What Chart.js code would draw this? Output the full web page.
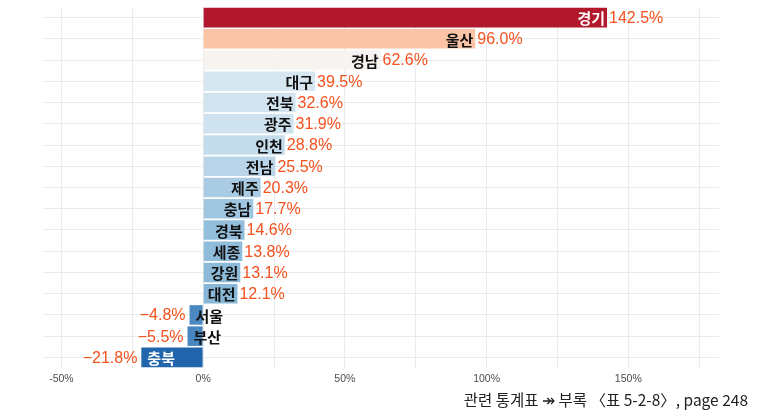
<!DOCTYPE html>
<html>
<head>
<meta charset="utf-8">
<script src="https://cdn.jsdelivr.net/npm/chart.js@4"></script>
<style>
  body { margin: 0; background: #fff; }
  #wrap { position: relative; width: 760px; height: 415px; }
  #caption {
    position: absolute; right: 12px; top: 388px;
    font-family: "Noto Sans CJK KR", "Noto Sans", sans-serif;
    font-size: 15.5px; color: #222; white-space: nowrap;
  }
</style>
</head>
<body>
<div id="wrap">
  <canvas id="chart" width="760" height="415"></canvas>
  <div id="caption">관련 통계표 ↠ 부록 〈표 5-2-8〉, page 248</div>
</div>
<script>
// regions sorted by growth rate
var regions = ['경기', '울산', '경남', '대구', '전북', '광주', '인천', '전남', '제주',
               '충남', '경북', '세종', '강원', '대전', '서울', '부산', '충북'];
var growth = [142.5, 96.0, 62.6, 39.5, 32.6, 31.9, 28.8, 25.5, 20.3,
              17.7, 14.6, 13.8, 13.1, 12.1, -4.8, -5.5, -21.8];
var barColors = ['#b2182b', '#fbc4a7', '#f7f3f1', '#d6e7f1', '#d0e3ef', '#cfe2ef', '#c5dcec',
                 '#bad5e9', '#a9cbe3', '#9fc5e0', '#92bedc', '#8fbcdb', '#8cbad9', '#88b7d8',
                 '#4b89c3', '#4786c1', '#2166ac'];
var xTicks = [-50, 0, 50, 100, 150];

function isDark(hex) {
    var r = parseInt(hex.substr(1, 2), 16), g = parseInt(hex.substr(3, 2), 16), b = parseInt(hex.substr(5, 2), 16);
    return (0.299 * r + 0.587 * g + 0.114 * b) < 110;
}

function fmt(v) {
    var s = Math.abs(v).toFixed(1) + '%';
    return v < 0 ? '\u2212' + s : s;
}

// draw region name at bar end and value outside it
var barLabels = {
    id: 'barLabels',
    afterDatasetsDraw: function(chart) {
        var ctx = chart.ctx;
        var meta = chart.getDatasetMeta(0);
        ctx.save();
        ctx.textBaseline = 'middle';
        meta.data.forEach(function(bar, i) {
            var v = growth[i];
            var nameColor = isDark(barColors[i]) ? '#ffffff' : '#111111';
            ctx.font = 'bold 15px "Noto Sans CJK KR", sans-serif';
            ctx.fillStyle = nameColor;
            if (v >= 0) {
                ctx.textAlign = 'right';
                ctx.fillText(regions[i], bar.x - 2, bar.y + 1);
            } else {
                ctx.textAlign = 'left';
                ctx.fillText(regions[i], bar.x + 6, bar.y + 1);
            }
            ctx.font = '16px "Liberation Sans", Arial, sans-serif';
            ctx.fillStyle = '#f4511e';
            if (v >= 0) {
                ctx.textAlign = 'left';
                ctx.fillText(fmt(v), bar.x + 2, bar.y + 1);
            } else {
                ctx.textAlign = 'right';
                ctx.fillText(fmt(v), bar.x - 4, bar.y + 1);
            }
        });
        ctx.restore();
    }
};

new Chart(document.getElementById('chart'), {
    type: 'bar',
    data: {
        labels: regions,
        datasets: [{
            data: growth,
            backgroundColor: barColors,
            borderWidth: 0,
            barPercentage: 0.92,
            categoryPercentage: 1.0
        }]
    },
    options: {
        indexAxis: 'y',
        responsive: false,
        animation: false,
        layout: { padding: { left: 43, right: 41, top: 7, bottom: 0 } },
        plugins: { legend: { display: false }, tooltip: { enabled: false } },
        scales: {
            x: {
                min: -56.5,
                max: 182,
                afterBuildTicks: function(scale) {
                    var t = [];
                    for (var v = -50; v <= 175; v += 25) t.push({ value: v });
                    scale.ticks = t;
                },
                afterFit: function(scale) { scale.height = 47; },
                grid: { color: '#ebebeb', lineWidth: 1, drawTicks: false },
                border: { display: false },
                ticks: {
                    autoSkip: false,
                    maxRotation: 0,
                    padding: 5,
                    color: '#4d4d4d',
                    font: { family: '"Liberation Sans", Arial, sans-serif', size: 10.5 },
                    callback: function(v) { return xTicks.indexOf(v) >= 0 ? v + '%' : ''; }
                }
            },
            y: {
                afterFit: function(scale) { scale.width = 0; },
                grid: { color: '#ebebeb', lineWidth: 1, offset: false, drawTicks: false },
                border: { display: false },
                ticks: { display: false }
            }
        }
    },
    plugins: [barLabels]
});
</script>
</body>
</html>
